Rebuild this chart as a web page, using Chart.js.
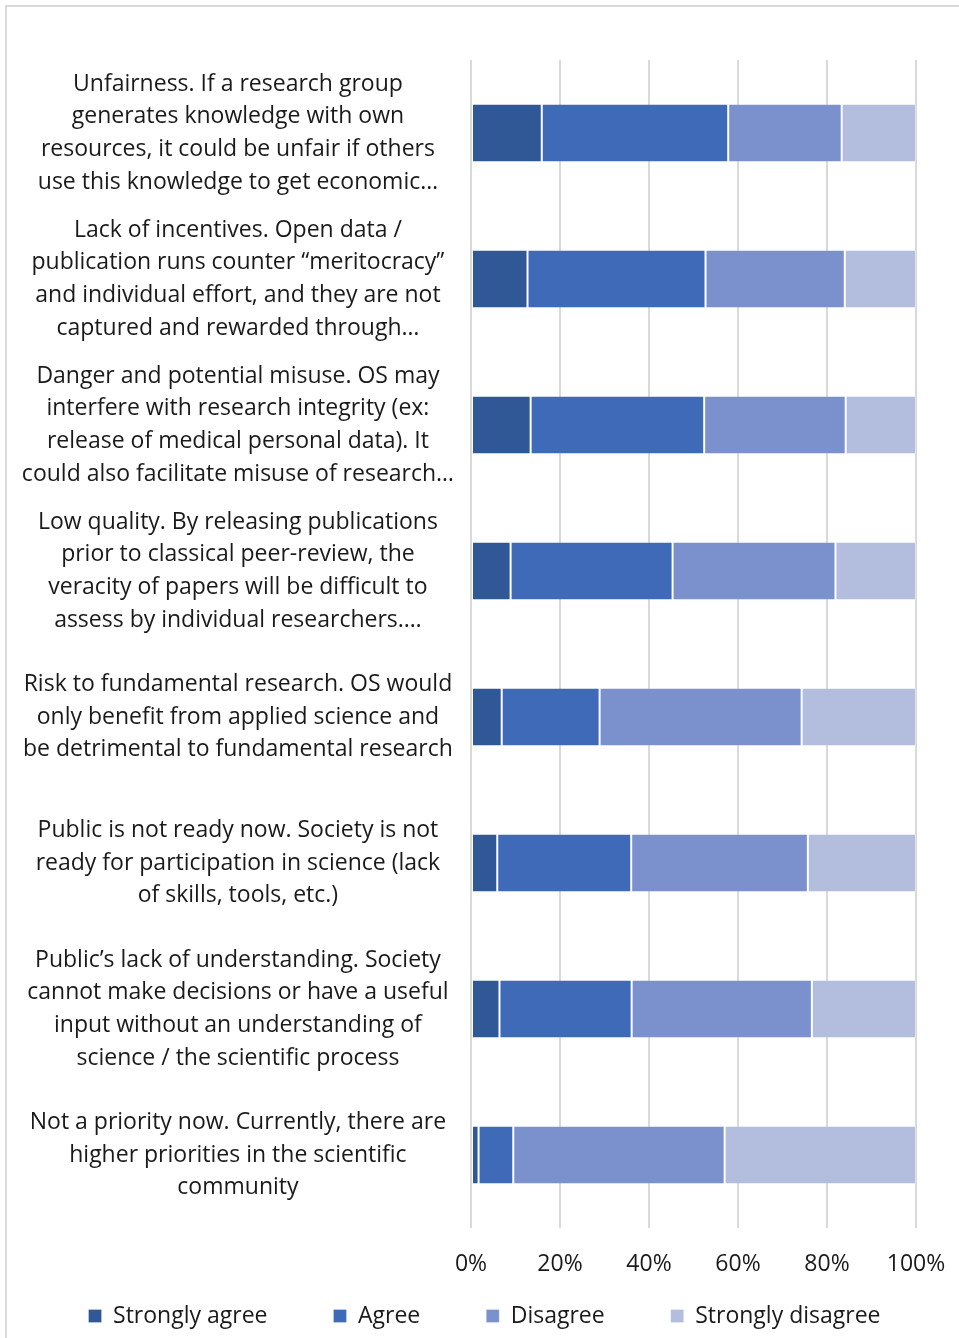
<!DOCTYPE html>
<html>
<head>
<meta charset="utf-8">
<script src="https://cdn.jsdelivr.net/npm/chart.js@4/dist/chart.umd.min.js"></script>
<style>
  html, body { margin: 0; padding: 0; background: #ffffff; }
  #frame {
    position: absolute; left: 5px; top: 5px; width: 980px; height: 1360px;
    border-left: 2px solid #d9d9d9; border-top: 2px solid #d9d9d9;
    box-sizing: border-box;
  }
  #wrap { position: absolute; left: 0; top: 0; width: 959px; height: 1338px; }
</style>
</head>
<body>
<div id="frame"></div>
<div id="wrap"><canvas id="chart" width="959" height="1338"></canvas></div>
<script>
// Survey statements about barriers to Open Science
const categories = [
  ["Unfairness. If a research group", "generates knowledge with own", "resources, it could be unfair if others", "use this knowledge to get economic…"],
  ["Lack of incentives. Open data /", "publication runs counter “meritocracy”", "and individual effort, and they are not", "captured and rewarded through…"],
  ["Danger and potential misuse. OS may", "interfere with research integrity (ex:", "release of medical personal data). It", "could also facilitate misuse of research…"],
  ["Low quality. By releasing publications", "prior to classical peer-review, the", "veracity of papers will be difficult to", "assess by individual researchers.…"],
  ["Risk to fundamental research. OS would", "only benefit from applied science and", "be detrimental to fundamental research"],
  ["Public is not ready now. Society is not", "ready for participation in science (lack", "of skills, tools, etc.)"],
  ["Public’s lack of understanding. Society", "cannot make decisions or have a useful", "input without an understanding of", "science / the scientific process"],
  ["Not a priority now. Currently, there are", "higher priorities in the scientific", "community"]
];

// Share of answers (%) per statement
const stronglyAgree    = [15.9, 12.7, 13.4,  8.9,  6.9,  5.9,  6.4,  1.7];
const agree            = [41.9, 40.0, 39.0, 36.4, 22.0, 30.1, 29.7,  7.8];
const disagree         = [25.5, 31.3, 31.8, 36.6, 45.4, 39.7, 40.5, 47.5];
const stronglyDisagree = [16.7, 16.0, 15.8, 18.1, 25.7, 24.3, 23.4, 43.0];

const seriesNames = ["Strongly agree", "Agree", "Disagree", "Strongly disagree"];
const tickValues = [0, 20, 40, 60, 80, 100];

const colors = ["#315896", "#3f6ab7", "#7a91cd", "#b3bdde"];
const FONT = "'Open Sans', sans-serif";
const FONT_SIZE = 23;
const LEGEND_GAP = 66;      // horizontal space between legend entries
const LEGEND_TRIM = 59;     // part of the legend's top padding not reserved in the layout

const seriesData = [stronglyAgree, agree, disagree, stronglyDisagree];
const datasets = seriesNames.map((name, i) => ({
  label: name,
  data: seriesData[i],
  backgroundColor: colors[i],
  borderColor: "rgba(255,255,255,0.28)",
  borderWidth: 1,
  borderSkipped: false,
  barPercentage: 0.4,
  categoryPercentage: 1.0
}));

// Legend labels.padding is used both between entries and above the row;
// keep the wide horizontal gap without reserving the tall band above it.
const compactLegend = {
  id: "compactLegend",
  afterInit(chart) {
    const legend = chart.legend;
    const fit = legend.fit;
    legend.fit = function () {
      fit.call(this);
      this.height -= LEGEND_TRIM;
    };
  },
  afterLayout(chart) {
    chart.legend.top -= LEGEND_TRIM;
  }
};

new Chart(document.getElementById("chart"), {
  type: "bar",
  data: { labels: categories, datasets },
  plugins: [compactLegend],
  options: {
    indexAxis: "y",
    responsive: false,
    animation: false,
    layout: { padding: { left: 10, right: 0, top: 60, bottom: 0.5 } },
    scales: {
      x: {
        stacked: true,
        min: 0,
        max: 100,
        afterBuildTicks: (scale) => { scale.ticks = tickValues.map(v => ({ value: v })); },
        afterFit: (scale) => {
          scale.height = 69.5;
          scale.paddingRight = 43;
        },
        ticks: {
          callback: (v) => v + "%",
          color: "#1a1a1a",
          font: { family: FONT, size: FONT_SIZE },
          padding: 23,
          maxRotation: 0
        },
        grid: { color: "#d9d9d9", lineWidth: 2, drawTicks: false },
        border: { display: false }
      },
      y: {
        stacked: true,
        afterFit: (scale) => {
          scale.width = 461;
          scale.paddingTop = 0;
          scale.paddingBottom = 0;
        },
        ticks: {
          crossAlign: "center",
          color: "#1a1a1a",
          padding: 9,
          autoSkip: false,
          font: { family: FONT, size: FONT_SIZE, lineHeight: 1.42 }
        },
        grid: { display: false },
        border: { display: false }
      }
    },
    plugins: {
      legend: {
        position: "bottom",
        labels: {
          boxWidth: 13,
          boxHeight: 13,
          padding: LEGEND_GAP,
          color: "#1a1a1a",
          font: { family: FONT, size: FONT_SIZE }
        }
      },
      tooltip: { enabled: false }
    }
  }
});
</script>
</body>
</html>
